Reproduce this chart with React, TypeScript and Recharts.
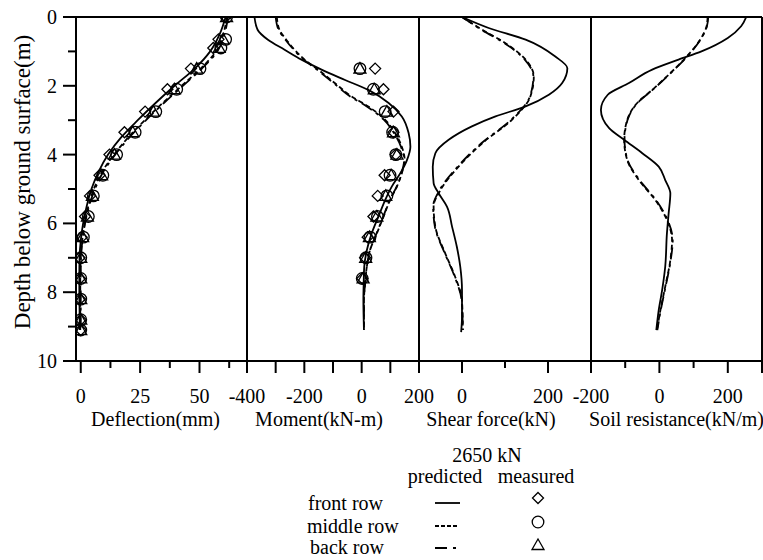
import React from "react";
import { ScatterChart, Scatter, XAxis, YAxis, ReferenceLine } from "recharts";

const FONT = "Liberation Serif, Times New Roman, Times, DejaVu Serif, serif";

// depth axis (m)
const DEPTH_TICKS = [0, 1, 2, 3, 4, 5, 6, 7, 8, 9, 10];
const DEPTH_LABELS = [0, 2, 4, 6, 8, 10];

// deflection (mm)
const DEFL_PRED_DEPTH = [0, 0.5, 1, 1.5, 2, 2.5, 3, 3.5, 4, 4.5, 5, 5.5, 6, 6.5, 7, 7.5, 8, 8.5, 9.1];
const DEFL_PRED_FRONT = [61, 58.5, 54.5, 48, 39.5, 31.5, 24, 17, 11.5, 7.5, 4.5, 2.5, 1, 0, -0.5, -0.6, -0.6, -0.5, -0.4];
const DEFL_PRED_MIDDLE = [61.5, 60, 57, 50.5, 42.5, 34.5, 27, 20, 14, 9, 5.5, 3.2, 1.7, 0.6, 0, -0.2, -0.2, -0.2, -0.2];
const DEFL_PRED_BACK = [62, 60.5, 57.5, 51, 43, 35, 27.5, 20.5, 14.5, 9.5, 6, 3.5, 1.8, 0.7, 0.1, 0, 0, 0, 0];
const DEFL_MEAS_DEPTH = [0, 0.65, 0.9, 1.5, 2.1, 2.75, 3.35, 4.0, 4.6, 5.2, 5.8, 6.4, 7.0, 7.6, 8.2, 8.8, 9.1];
const DEFL_MEAS_FRONT = [61, 58, 55.8, 46.4, 36.5, 27.1, 18.4, 12.1, 7.9, 3.9, 1.8, 0.4, -0.5, -0.3, -0.3, 0, 0];
const DEFL_MEAS_MIDDLE = [61.4, 61, 59, 50.2, 40.4, 31.6, 22.9, 15.1, 9.3, 5.3, 3.2, 1.1, 0, 0, 0, 0, 0];
const DEFL_MEAS_BACK = [61.4, 60, 58.3, 48.8, 39.4, 30.6, 21.9, 14.2, 8.8, 4.9, 2.8, 0.8, 0, 0, 0, 0, 0];

// moment (kN-m)
const MOM_FRONT_DEPTH = [0, 0.37, 0.66, 0.95, 1.24, 1.53, 1.83, 2.12, 2.5, 2.89, 3.38, 3.77, 4.16, 4.54, 4.93, 5.32, 5.81, 6.29, 6.78, 7.26, 7.75, 8.23, 9.1];
const MOM_FRONT = [-374, -363, -327, -269, -210, -140, -58, 23, 94, 140, 164, 170, 158, 135, 105, 82, 58, 35, 18, 9, 7, 6, 8];
const MOM_REAR_DEPTH = [0, 0.37, 0.66, 0.95, 1.24, 1.53, 1.92, 2.31, 2.6, 2.99, 3.38, 3.77, 4.16, 4.54, 4.93, 5.32, 5.81, 6.29, 6.78, 7.26, 7.75, 8.23, 9.1];
const MOM_MIDDLE = [-296, -287, -263, -234, -199, -152, -94, -35, 23, 82, 117, 140, 150, 140, 123, 99, 76, 53, 29, 18, 12, 8, 8];
const MOM_BACK = [-300, -290, -266, -237, -202, -156, -98, -40, 18, 78, 113, 137, 148, 139, 122, 98, 75, 52, 29, 18, 12, 8, 8];
const MOM_MEAS_DEPTH = [1.5, 2.1, 2.75, 3.35, 4.0, 4.6, 5.2, 5.8, 6.4, 7.0, 7.6];
const MOM_MEAS_FRONT = [47, 76, 111, 111, 119, 80, 56, 41, 21, 12, 2];
const MOM_MEAS_MIDDLE = [-6, 41, 82, 108, 119, 99, 88, 55, 29, 15, 2];
const MOM_MEAS_BACK = [-6, 44, 88, 111, 123, 103, 84, 53, 27, 14, 5];

// shear force (kN)
const SHEAR_FRONT_DEPTH = [0, 0.32, 0.66, 1.15, 1.49, 1.92, 2.26, 2.6, 2.89, 3.18, 3.57, 3.96, 4.35, 4.83, 5.13, 5.51, 6.1, 6.68, 7.26, 7.94, 8.72, 9.16];
const SHEAR_FRONT = [0, 62, 148, 217, 245, 233, 202, 148, 78, 23, -31, -62, -68, -66, -54, -35, -23, -12, -4, 0, 0, -2];
const SHEAR_REAR_DEPTH = [0, 0.37, 0.76, 1.24, 1.73, 2.31, 2.99, 3.67, 4.35, 5.03, 5.51, 6.1, 6.87, 7.55, 8.23, 9.1];
const SHEAR_MIDDLE = [0, 47, 101, 148, 167, 159, 116, 47, -8, -50, -66, -62, -39, -16, 0, 2];
const SHEAR_BACK = [0, 45, 99, 146, 166, 158, 114, 45, -10, -52, -67, -63, -40, -17, -1, 2];

// soil resistance (kN/m)
const SOIL_FRONT_DEPTH = [0, 0.27, 0.61, 1.0, 1.24, 1.53, 1.92, 2.26, 2.7, 3.23, 3.57, 3.96, 4.35, 4.74, 5.13, 5.71, 6.29, 7.26, 7.94, 8.52, 9.1];
const SOIL_FRONT = [254, 239, 200, 123, 56, -21, -89, -151, -171, -147, -103, -50, -2, 17, 32, 27, 22, 17, 8, -2, -9];
const SOIL_REAR_DEPTH = [0, 0.27, 0.66, 1.15, 1.63, 2.12, 2.5, 2.99, 3.57, 4.16, 4.74, 5.32, 5.9, 6.49, 7.07, 7.84, 8.52, 9.1];
const SOIL_MIDDLE = [141, 138, 119, 80, 32, -21, -65, -94, -103, -94, -60, -12, 22, 37, 32, 17, 3, -7];
const SOIL_BACK = [143, 139, 120, 81, 33, -20, -64, -93, -102, -93, -58, -10, 24, 39, 33, 18, 4, -6];

const DASH_FRONT = undefined;
const DASH_MIDDLE = "5 3";
const DASH_BACK = "12 5 3 5";

const pts = (vals: number[], depth: number[]) => vals.map((v, i) => ({ x: v, y: depth[i] }));

const TOP = 17;
const PLOT_H = 344;
const AXIS_H = 80;
const PAD = 30;

const txt = { fontSize: 20, fill: "#000", style: { fontFamily: FONT } };

const Empty = () => <g />;

const Diamond = ({ cx, cy }: any) => (
  <path d={`M${cx},${cy - 5.5}L${cx + 5.5},${cy}L${cx},${cy + 5.5}L${cx - 5.5},${cy}Z`} fill="none" stroke="#000" strokeWidth={1.3} />
);
const Ring = ({ cx, cy }: any) => <circle cx={cx} cy={cy} r={5.8} fill="none" stroke="#000" strokeWidth={1.3} />;
const Tri = ({ cx, cy }: any) => (
  <path d={`M${cx},${cy - 6}L${cx + 6},${cy + 4.5}L${cx - 6},${cy + 4.5}Z`} fill="none" stroke="#000" strokeWidth={1.3} />
);

function BottomTick({ x, y, payload, longs, labels }: any) {
  const v = payload.value;
  return (
    <g>
      <line x1={x} x2={x} y1={y} y2={y + (longs.includes(v) ? 12 : 7)} stroke="#000" strokeWidth={2} />
      {labels.includes(v) && (
        <text x={x} y={y + 42} textAnchor="middle" {...txt}>
          {v}
        </text>
      )}
    </g>
  );
}

function LeftTick({ x, y, payload }: any) {
  const v = payload.value;
  const major = DEPTH_LABELS.includes(v);
  return (
    <g>
      <line x1={x - (major ? 13 : 8)} x2={x} y1={y} y2={y} stroke="#000" strokeWidth={2} />
      {major && (
        <text x={x - 19} y={y + 7} textAnchor="end" {...txt}>
          {v}
        </text>
      )}
    </g>
  );
}

const panels = [
  {
    title: "Deflection(mm)", titleDx: -6, left: 76, width: 171, domain: [-2, 70],
    ticks: [0, 12.5, 25, 37.5, 50, 62.5], longs: [0, 25, 50], labels: [0, 25, 50],
    lines: [
      { data: pts(DEFL_PRED_FRONT, DEFL_PRED_DEPTH), dash: DASH_FRONT },
      { data: pts(DEFL_PRED_MIDDLE, DEFL_PRED_DEPTH), dash: DASH_MIDDLE },
      { data: pts(DEFL_PRED_BACK, DEFL_PRED_DEPTH), dash: DASH_BACK },
    ],
    marks: [
      { data: pts(DEFL_MEAS_FRONT, DEFL_MEAS_DEPTH), shape: Diamond },
      { data: pts(DEFL_MEAS_MIDDLE, DEFL_MEAS_DEPTH), shape: Ring },
      { data: pts(DEFL_MEAS_BACK, DEFL_MEAS_DEPTH), shape: Tri },
    ],
  },
  {
    title: "Moment(kN-m)", titleDx: -14, left: 247, width: 172, domain: [-400, 200],
    ticks: [-400, -300, -200, -100, 0, 100, 200], longs: [-400, -300, -200, -100, 0, 100, 200], labels: [-400, -200, 0, 200],
    lines: [
      { data: pts(MOM_FRONT, MOM_FRONT_DEPTH), dash: DASH_FRONT },
      { data: pts(MOM_MIDDLE, MOM_REAR_DEPTH), dash: DASH_MIDDLE },
      { data: pts(MOM_BACK, MOM_REAR_DEPTH), dash: DASH_BACK },
    ],
    marks: [
      { data: pts(MOM_MEAS_FRONT, MOM_MEAS_DEPTH), shape: Diamond },
      { data: pts(MOM_MEAS_MIDDLE, MOM_MEAS_DEPTH), shape: Ring },
      { data: pts(MOM_MEAS_BACK, MOM_MEAS_DEPTH), shape: Tri },
    ],
  },
  {
    title: "Shear force(kN)", titleDx: -14, left: 419, width: 172, domain: [-100, 300],
    ticks: [0, 100, 200], longs: [0, 200], labels: [0, 200],
    lines: [
      { data: pts(SHEAR_FRONT, SHEAR_FRONT_DEPTH), dash: DASH_FRONT },
      { data: pts(SHEAR_MIDDLE, SHEAR_REAR_DEPTH), dash: DASH_MIDDLE },
      { data: pts(SHEAR_BACK, SHEAR_REAR_DEPTH), dash: DASH_BACK },
    ],
    marks: [],
  },
  {
    title: "Soil resistance(kN/m)", titleDx: 0, left: 591, width: 171, domain: [-200, 300],
    ticks: [-200, -100, 0, 100, 200, 300], longs: [-200, 0, 200, 300], labels: [-200, 0, 200],
    lines: [
      { data: pts(SOIL_FRONT, SOIL_FRONT_DEPTH), dash: DASH_FRONT },
      { data: pts(SOIL_MIDDLE, SOIL_REAR_DEPTH), dash: DASH_MIDDLE },
      { data: pts(SOIL_BACK, SOIL_REAR_DEPTH), dash: DASH_BACK },
    ],
    marks: [],
  },
];

function Panel({ p, index }: any) {
  const first = index === 0;
  const last = index === panels.length - 1;
  const ml = first ? 0 : PAD;
  const yw = first ? p.left : 0;
  const mr = last ? 1 : PAD;
  const divLeft = first ? 0 : p.left - PAD;
  const w = ml + yw + p.width + mr;
  return (
    <div style={{ position: "absolute", left: divLeft, top: 0 }}>
      <ScatterChart width={w} height={TOP + PLOT_H + AXIS_H} margin={{ top: TOP, right: mr, bottom: 0, left: ml }}>
        <XAxis
          type="number"
          dataKey="x"
          domain={p.domain}
          allowDataOverflow
          ticks={p.ticks}
          interval={0}
          tickSize={0}
          tickMargin={0}
          tickLine={false}
          height={AXIS_H}
          axisLine={{ stroke: "#000", strokeWidth: 2 }}
          tick={(t: any) => <BottomTick {...t} longs={p.longs} labels={p.labels} />}
          label={{ value: p.title, position: "insideBottom", offset: 15, dx: p.titleDx, fontSize: 20, fill: "#000", style: { fontFamily: FONT } }}
        />
        <YAxis
          type="number"
          dataKey="y"
          domain={[0, 10]}
          reversed
          allowDataOverflow
          hide={!first}
          width={yw}
          ticks={DEPTH_TICKS}
          interval={0}
          tickSize={0}
          tickMargin={0}
          tickLine={false}
          axisLine={{ stroke: "#000", strokeWidth: 2 }}
          tick={(t: any) => <LeftTick {...t} />}
          label={first ? { value: "Depth below ground surface(m)", angle: -90, position: "center", dx: -16, dy: -7, fontSize: 23, fill: "#000", style: { fontFamily: FONT } } : undefined}
        />
        <ReferenceLine y={0} stroke="#000" strokeWidth={2} />
        {!first && <ReferenceLine x={p.domain[0]} stroke="#000" strokeWidth={2} />}
        <ReferenceLine x={p.domain[1]} stroke="#000" strokeWidth={2} />
        {p.lines.map((l: any, i: number) => (
          <Scatter
            key={"l" + i}
            data={l.data}
            fill="none"
            line={{ stroke: "#000", strokeWidth: 1.8, strokeDasharray: l.dash }}
            lineJointType="monotoneY"
            shape={Empty}
            isAnimationActive={false}
          />
        ))}
        {p.marks.map((m: any, i: number) => (
          <Scatter key={"m" + i} data={m.data} shape={m.shape} isAnimationActive={false} />
        ))}
      </ScatterChart>
    </div>
  );
}

function LegendBlock() {
  const oy = 430;
  return (
    <svg width={763} height={130} style={{ position: "absolute", left: 0, top: oy }}>
      <text x={487} y={455 + 7 - oy} textAnchor="middle" {...txt}>2650 kN</text>
      <text x={445} y={477 + 6 - oy} textAnchor="middle" {...txt}>predicted</text>
      <text x={536} y={477 + 6 - oy} textAnchor="middle" {...txt}>measured</text>
      <text x={308} y={504 + 6 - oy} {...txt}>front row</text>
      <text x={307} y={527 + 6 - oy} {...txt}>middle row</text>
      <text x={310} y={548 + 6 - oy} {...txt}>back row</text>
      <line x1={435} x2={460} y1={503 - oy} y2={503 - oy} stroke="#000" strokeWidth={1.8} />
      <line x1={435} x2={457} y1={526 - oy} y2={526 - oy} stroke="#000" strokeWidth={1.8} strokeDasharray="4 2" />
      <line x1={435} x2={456} y1={548 - oy} y2={548 - oy} stroke="#000" strokeWidth={1.8} strokeDasharray="12 6 3 6" />
      <Diamond cx={538} cy={498 - oy} />
      <Ring cx={538} cy={522 - oy} />
      <Tri cx={538} cy={545 - oy} />
    </svg>
  );
}

export default function App() {
  return (
    <div style={{ position: "absolute", left: 0, top: 0, width: 763, height: 560, background: "#fff", fontFamily: FONT }}>
      {panels.map((p, i) => (
        <Panel key={p.title} p={p} index={i} />
      ))}
      <LegendBlock />
    </div>
  );
}
